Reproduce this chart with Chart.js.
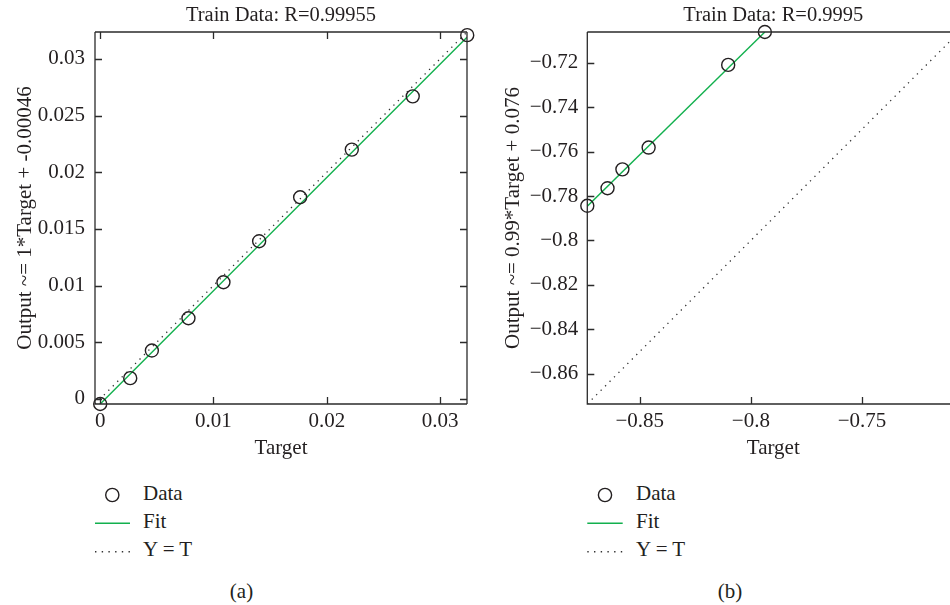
<!DOCTYPE html>
<html>
<head>
<meta charset="utf-8">
<script src="https://cdn.jsdelivr.net/npm/chart.js@4.4.1/dist/chart.umd.min.js"></script>
<style>
  html, body { margin:0; padding:0; background:#fff; width:950px; height:605px; overflow:hidden; }
  body { position:relative; font-family:"Liberation Serif", "DejaVu Serif", serif; color:#231f20; }
  canvas { position:absolute; top:0; }
  #cL { left:0; }
  #cR { left:480px; }
  .lg { position:absolute; font-size:21px; line-height:24px; white-space:nowrap; }
  .sym { position:absolute; }
  .cap { position:absolute; font-size:21px; line-height:24px; transform:translateX(-50%); }
</style>
</head>
<body>
<canvas id="cL" width="480" height="470"></canvas>
<canvas id="cR" width="500" height="470"></canvas>

<!-- legend (a) -->
<svg class="sym" style="left:90px;top:480px;" width="45" height="80" viewBox="0 0 45 80">
  <circle cx="22.3" cy="15" r="6.6" fill="none" stroke="#231f20" stroke-width="1.4"/>
  <line x1="5" y1="43.3" x2="40" y2="43.3" stroke="#12b04e" stroke-width="1.6"/>
  <line x1="5" y1="71.7" x2="40" y2="71.7" stroke="#333" stroke-width="1.4" stroke-dasharray="1.4 5.3"/>
</svg>
<div class="lg" style="left:143px;top:481px;">Data</div>
<div class="lg" style="left:143px;top:509px;">Fit</div>
<div class="lg" style="left:143px;top:537px;">Y = T</div>
<div class="cap" style="left:241.5px;top:579px;">(a)</div>

<!-- legend (b) -->
<svg class="sym" style="left:582px;top:480px;" width="45" height="80" viewBox="0 0 45 80">
  <circle cx="23" cy="15" r="6.6" fill="none" stroke="#231f20" stroke-width="1.4"/>
  <line x1="5.3" y1="43.3" x2="40.7" y2="43.3" stroke="#12b04e" stroke-width="1.6"/>
  <line x1="5.3" y1="71.7" x2="40.7" y2="71.7" stroke="#333" stroke-width="1.4" stroke-dasharray="1.4 5.3"/>
</svg>
<div class="lg" style="left:636px;top:481px;">Data</div>
<div class="lg" style="left:636px;top:509px;">Fit</div>
<div class="lg" style="left:636px;top:537px;">Y = T</div>
<div class="cap" style="left:730px;top:579px;">(b)</div>

<script>
// ---------- data (a) ----------
const leftTarget = [0, 0.00265, 0.00456, 0.00779, 0.01088, 0.01403, 0.01765, 0.02221, 0.02759, 0.0324];
const leftOutput = [-0.00046, 0.00182, 0.00426, 0.00711, 0.01029, 0.01391, 0.01779, 0.0220, 0.0267, 0.0321];
const leftFitX = [-0.00046, 0.03238];
const leftFitY = [-0.00092, 0.03192];
const leftLimits = [-0.00046, 0.03238];
const leftXTicks = [0, 0.01, 0.02, 0.03];
const leftYTicks = [0, 0.005, 0.01, 0.015, 0.02, 0.025, 0.03];

// ---------- data (b) ----------
const rightTarget = [-0.8736, -0.8645, -0.8578, -0.8460, -0.8102, -0.7937];
const rightOutput = [-0.7844, -0.7765, -0.7680, -0.7582, -0.7210, -0.7062];
const rightFitX = [-0.8736, -0.7937];
const rightFitY = [-0.7846, -0.7062];
const rightLimits = [-0.8736, -0.7062];
const rightXTicks = [-0.85, -0.8, -0.75];
const rightYTicks = [-0.86, -0.84, -0.82, -0.8, -0.78, -0.76, -0.74, -0.72];

const INK = '#231f20';
const GREEN = '#12b04e';
const FONT = '"Liberation Serif", "DejaVu Serif", serif';

function pts(xs, ys){ return xs.map((x,i)=>({x:x, y:ys[i]})); }
function fmt(v){ return String(+v.toFixed(6)).replace('-', '\u2212'); }

const innerTicks = {
  id:'innerTicks',
  afterDraw(chart, args, opts){
    const ctx = chart.ctx, a = chart.chartArea;
    const xs = chart.scales.x, ys = chart.scales.y;
    ctx.save();
    ctx.strokeStyle = '#2b2b2b';
    ctx.lineWidth = 1.3;
    ctx.beginPath();
    ctx.moveTo(a.left, a.top); ctx.lineTo(a.right, a.top);
    ctx.moveTo(a.left, a.top); ctx.lineTo(a.left, a.bottom); ctx.lineTo(a.right, a.bottom);
    if (opts.right) { ctx.moveTo(a.right, a.top); ctx.lineTo(a.right, a.bottom); }
    const L = 7;
    xs.ticks.forEach(t=>{
      const p = Math.round(xs.getPixelForValue(t.value)) + 0.5;
      ctx.moveTo(p, a.bottom); ctx.lineTo(p, a.bottom - L);
      if (opts.top) { ctx.moveTo(p, a.top); ctx.lineTo(p, a.top + L); }
    });
    ys.ticks.forEach(t=>{
      const p = Math.round(ys.getPixelForValue(t.value)) + 0.5;
      ctx.moveTo(a.left, p); ctx.lineTo(a.left + L, p);
      if (opts.right) { ctx.moveTo(a.right, p); ctx.lineTo(a.right - L, p); }
    });
    ctx.stroke();
    ctx.restore();
  }
};

function makeChart(id, cfg){
  return new Chart(document.getElementById(id), {
    type:'scatter',
    data:{ datasets:[
      { label:'Y = T', data: pts(cfg.lim, cfg.lim), showLine:true, pointRadius:0,
        borderColor:'#333', borderWidth:1.3, borderDash:[1.3,5], borderCapStyle:'butt', order:3 },
      { label:'Fit', data: pts(cfg.fitX, cfg.fitY), showLine:true, pointRadius:0,
        borderColor:GREEN, borderWidth:1.4, order:2 },
      { label:'Data', data: pts(cfg.tx, cfg.ty), showLine:false, pointStyle:'circle',
        pointRadius:6.5, pointHoverRadius:6.5, borderColor:INK, borderWidth:1.4,
        backgroundColor:'rgba(0,0,0,0)', clip:false, order:1 }
    ]},
    options:{
      responsive:false, animation:false, devicePixelRatio:1,
      layout:{ padding:{ left:0, right:cfg.padRight, top:0, bottom:0 } },
      plugins:{
        legend:{ display:false }, tooltip:{ enabled:false },
        title:{ display:true, text:cfg.title, fullSize:false, color:INK,
          font:{ family:FONT, size:20.5, weight:'normal', lineHeight:1.2 },
          padding:{ top:3.7, bottom:3.7 } },
        innerTicks:{ top:cfg.topTicks, right:cfg.rightSide }
      },
      scales:{
        x:{ type:'linear', min:cfg.lim[0], max:cfg.lim[1],
          afterBuildTicks:s=>{ s.ticks = cfg.xt.map(v=>({value:v})); },
          afterFit:s=>{ s.height = 66; },
          grid:{ display:false, drawTicks:false }, border:{ display:false },
          ticks:{ color:INK, padding:5.5, maxRotation:0, autoSkip:false,
            font:{ family:FONT, size:21, lineHeight:1.15 }, callback:v=>fmt(v) },
          title:{ display:true, text:'Target', color:INK,
            font:{ family:FONT, size:21, lineHeight:1.2 }, padding:{ top:0, bottom:8.7 } }
        },
        y:{ type:'linear', min:cfg.lim[0], max:cfg.lim[1],
          afterBuildTicks:s=>{ s.ticks = cfg.yt.map(v=>({value:v})); },
          afterFit:s=>{ s.width = cfg.yWidth; },
          grid:{ display:false, drawTicks:false }, border:{ display:false },
          ticks:{ color:INK, padding:cfg.yPad, autoSkip:false,
            font:{ family:FONT, size:21, lineHeight:1.15 }, callback:v=>fmt(v) },
          title:{ display:true, text:cfg.yTitle, color:INK,
            font:{ family:FONT, size:21, lineHeight:1.2 }, padding:{ top:cfg.yTitlePad, bottom:0 } }
        }
      }
    },
    plugins:[innerTicks]
  });
}

makeChart('cL', {
  lim:leftLimits, fitX:leftFitX, fitY:leftFitY, tx:leftTarget, ty:leftOutput,
  xt:leftXTicks, yt:leftYTicks, title:'Train Data: R=0.99955',
  yTitle:'Output ~= 1*Target + -0.00046', padRight:13, yWidth:95, yPad:10, yTitlePad:13.1,
  topTicks:true, rightSide:true
});
makeChart('cR', {
  lim:rightLimits, fitX:rightFitX, fitY:rightFitY, tx:rightTarget, ty:rightOutput,
  xt:rightXTicks, yt:rightYTicks, title:'Train Data: R=0.9995',
  yTitle:'Output ~= 0.99*Target + 0.076', padRight:20.7, yWidth:107.3, yPad:9, yTitlePad:20.4,
  topTicks:false, rightSide:false
});
</script>
</body>
</html>
